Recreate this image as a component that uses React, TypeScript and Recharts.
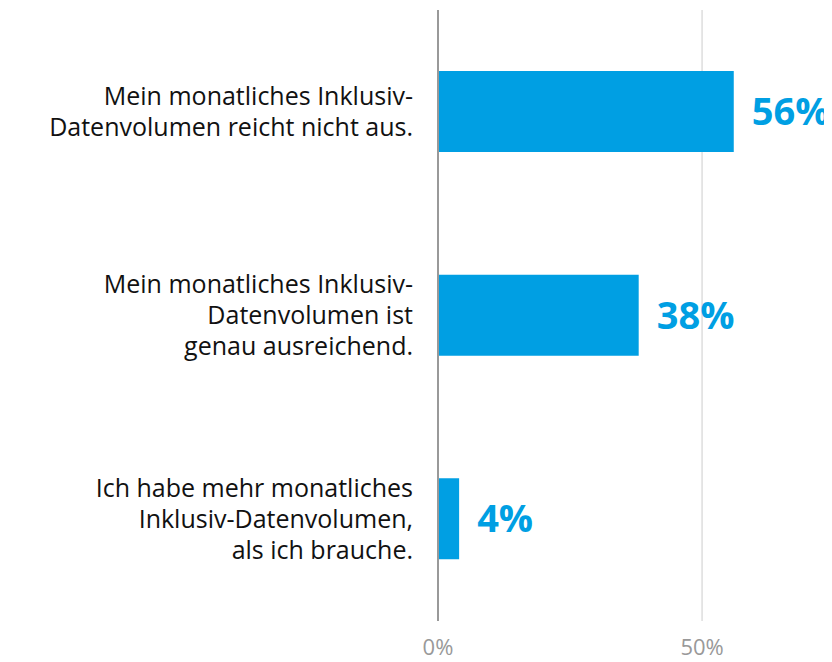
import React from "react";
import { BarChart, Bar, XAxis, YAxis, CartesianGrid, LabelList } from "recharts";

const categories = ["a", "b", "c"];
const categoryLines: string[][] = [
  ["Mein monatliches Inklusiv-", "Datenvolumen reicht nicht aus."],
  ["Mein monatliches Inklusiv-", "Datenvolumen ist", "genau ausreichend."],
  ["Ich habe mehr monatliches", "Inklusiv-Datenvolumen,", "als ich brauche."],
];
const values = [56, 38, 4];
const xTicks = [0, 50];

const data = categories.map((c, i) => ({ cat: c, value: values[i] }));

const FONT = "'Open Sans', 'Noto Sans', sans-serif";

const CatTick = (props: any) => {
  const { x, y, payload } = props;
  const idx = categories.indexOf(payload.value);
  const lines = categoryLines[idx] || [];
  const lh = 31;
  const start = y - ((lines.length - 1) * lh) / 2;
  return (
    <text x={x} y={start} textAnchor="end" fontFamily={FONT} fontSize={25} fill="#111">
      {lines.map((l, i) => (
        <tspan key={i} x={x} y={start + i * lh} dy="0.35em">
          {l}
        </tspan>
      ))}
    </text>
  );
};

export default function App() {
  return (
    <BarChart
      width={824}
      height={654}
      data={data}
      layout="vertical"
      margin={{ top: 2, right: 0, bottom: 0, left: 0 }}
      barCategoryGap="30%"
    >
      <CartesianGrid horizontal={false} stroke="#dddddd" strokeWidth={1.5} />
      <XAxis
        type="number"
        domain={[0, 74.6]}
        ticks={xTicks}
        tickFormatter={(v: number) => `${v}%`}
        axisLine={false}
        tickLine={false}
        height={41}
        tickMargin={12}
        tick={{ fill: "#999999", fontSize: 22, fontFamily: FONT }}
        allowDataOverflow
      />
      <YAxis
        type="category"
        dataKey="cat"
        width={430}
        axisLine={{ stroke: "#999999", strokeWidth: 2 }}
        tickLine={false}
        tick={<CatTick />}
        tickMargin={19}
      />
      <Bar dataKey="value" fill="#009fe3" barSize={81} isAnimationActive={false}>
        <LabelList
          dataKey="value"
          position="right"
          offset={18}
          formatter={(v: number) => `${v}%`}
          fill="#009fe3"
          fontSize={38}
          fontWeight="bold"
          fontFamily={FONT}
        />
      </Bar>
    </BarChart>
  );
}
